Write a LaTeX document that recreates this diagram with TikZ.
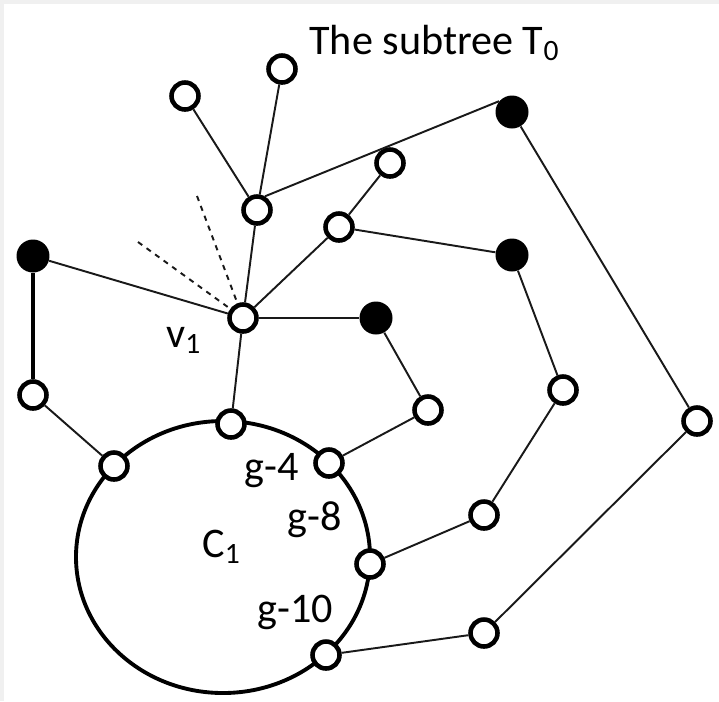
\documentclass[tikz,border=0pt]{standalone}
\usepackage{fontspec}
\setmainfont{Carlito}
\usetikzlibrary{calc}

\begin{document}
\begin{tikzpicture}[x=0.02cm, y=-0.02cm,
  every node/.style={font=\fontsize{24}{28}\selectfont},
  vopen/.style={circle, draw, line width=2.6pt, fill=white, minimum size=0.54cm, inner sep=0pt},
  vfull/.style={circle, fill=black, minimum size=0.66cm, inner sep=0pt},
  link/.style={line width=1.1pt, black!90},
  lbl/.style={inner sep=0pt, anchor=base west}]
  % Frame
  \fill[black!6] (0, 0) rectangle (719, 701);
  \fill[white] (4, 4) rectangle (719, 701);
  \useasboundingbox (0, 0) rectangle (719, 701);

  % Cycle C1
  \coordinate (c1) at (223, 557);
  \draw[line width=2.2pt] (c1) ellipse [x radius=147, y radius=136];

  % Vertices of the subtree
  \node[vopen] (a) at (185, 96) {};
  \node[vopen] (b) at (282, 69) {};
  \node[vopen] (c) at (257, 210) {};
  \node[vopen] (v1) at (243, 318) {};
  \node[vfull] (d) at (33, 256) {};
  \node[vopen] (e) at (339, 227) {};
  \node[vopen] (f) at (390, 163) {};
  \node[vfull] (g) at (512, 112) {};
  \node[vfull] (h) at (512, 255) {};
  \node[vfull] (i) at (376, 318) {};
  \node[vopen] (j) at (33, 395) {};
  \node[vopen] (n) at (428, 410) {};
  \node[vopen] (o) at (563, 390) {};
  \node[vopen] (p) at (697, 421) {};
  \node[vopen] (q) at (484, 515) {};
  \node[vopen] (s) at (484, 633) {};

  % Vertices on C1
  \node[vopen] (k) at (114, 466) {};
  \node[vopen] (l) at (231, 424) {};
  \node[vopen] (m) at (329, 463) {};
  \node[vopen] (r) at (370, 564) {};
  \node[vopen] (t) at (326, 655) {};

  % Edges
  \draw[link] (a) -- (c);
  \draw[link] (b) -- (c);
  \draw[link] (c.60) -- (g.140);
  \draw[link] (c) -- (v1);
  \draw[link] (d) -- (v1);
  \draw[line width=1.8pt] (d) -- (j);
  \draw[link] (j) -- (k);
  \draw[link] (v1) -- (e);
  \draw[link] (e) -- (f);
  \draw[link] (e) -- (h);
  \draw[link] (v1) -- (i);
  \draw[link] (v1) -- (l);
  \draw[link] (i) -- (n) -- (m);
  \draw[link] (h) -- (o) -- (q) -- (r);
  \draw[link] (g) -- (p) -- (s) -- (t);

  % Dashed edges
  \coordinate (dsh1) at (197, 196);
  \coordinate (dsh2) at (138, 242);
  \draw[link, dash pattern=on 3pt off 3pt] (dsh1) -- (v1);
  \draw[link, dash pattern=on 3pt off 3pt] (dsh2) -- (v1);

  % Labels
  \node[lbl] (title) at (309, 54) {The subtree T\textsubscript{0}};
  \node[lbl] (lv1) at (166, 347) {v\textsubscript{1}};
  \node[lbl] (lc1) at (202, 557) {C\textsubscript{1}};
  \node[lbl] (lg4) at (244, 480) {g-4};
  \node[lbl] (lg8) at (287, 530) {g-8};
  \node[lbl] (lg10) at (257, 622) {g-10};
\end{tikzpicture}
\end{document}
